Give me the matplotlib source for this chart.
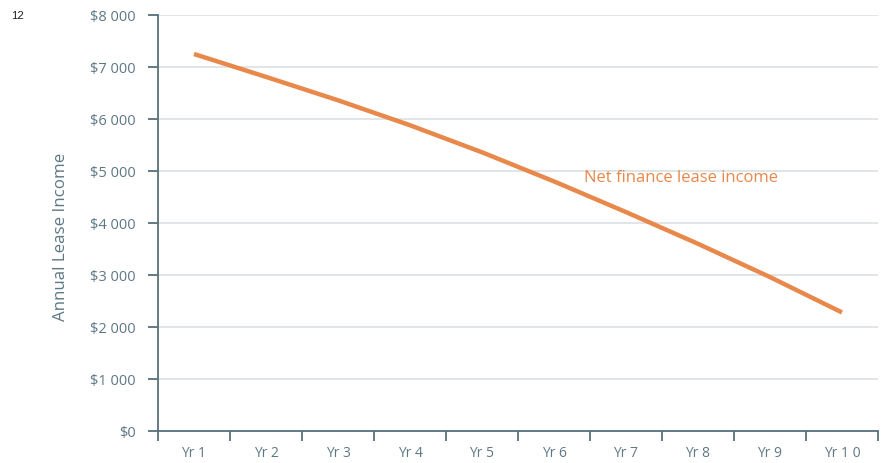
import matplotlib
matplotlib.use("Agg")
import matplotlib.pyplot as plt
from matplotlib.ticker import FixedLocator, FuncFormatter

years = ["Yr 1", "Yr 2", "Yr 3", "Yr 4", "Yr 5", "Yr 6", "Yr 7", "Yr 8", "Yr 9", "Yr 1 0"]
net_lease_income = [7250, 6810, 6360, 5880, 5360, 4800, 4210, 3600, 2960, 2280]
y_ticks = [0, 1000, 2000, 3000, 4000, 5000, 6000, 7000, 8000]

orange = "#E8884A"
slate = "#5E7885"
spine_col = "#56707C"
grid_col = "#DCE0E3"

plt.rcParams["font.family"] = ["Open Sans", "DejaVu Sans"]

fig = plt.figure(figsize=(8.88, 4.64), dpi=100)
ax = fig.add_axes([158 / 888, 32 / 464, 720 / 888, 416 / 464])

x = list(range(len(years)))
ax.plot(x, net_lease_income, color=orange, lw=3.2, solid_capstyle="butt", zorder=3)

ax.set_xlim(-0.5, len(years) - 0.5)
ax.set_ylim(0, 8000)

# y axis: dollar values with a space as thousands separator
ax.yaxis.set_major_locator(FixedLocator(y_ticks))
ax.yaxis.set_major_formatter(FuncFormatter(lambda v, p: "$" + f"{int(v):,}".replace(",", " ")))
ax.grid(axis="y", color=grid_col, lw=1.2, zorder=0)
ax.set_axisbelow(True)

# x axis: ticks at category boundaries, labels at category centres
ax.xaxis.set_major_locator(FixedLocator([i - 0.5 for i in range(len(years) + 1)]))
ax.xaxis.set_major_formatter(FuncFormatter(lambda v, p: ""))
ax.xaxis.set_minor_locator(FixedLocator(x))
ax.set_xticklabels(years, minor=True)

ax.tick_params(axis="y", which="major", length=7, width=1.3, color=spine_col,
               labelcolor=slate, labelsize=10.5, pad=9)
ax.tick_params(axis="x", which="major", length=7, width=1.3, color=spine_col)
ax.tick_params(axis="x", which="minor", length=0, labelcolor=slate, labelsize=10, pad=10)

for side in ("top", "right"):
    ax.spines[side].set_visible(False)
for side in ("left", "bottom"):
    ax.spines[side].set_color(spine_col)
    ax.spines[side].set_linewidth(1.3)

ax.set_ylabel("Annual Lease Income", color=slate, fontsize=12.2)
ax.yaxis.set_label_coords(-0.124, 0.47)

ax.text(5.41, 4880, "Net finance lease income", color=orange, fontsize=12,
        ha="left", va="center")

fig.text(11 / 888, 1 - 16 / 464, "12", family="Liberation Sans", fontsize=8.2,
         color="#222222", ha="left", va="center")

fig.savefig("out.png", dpi=100)
